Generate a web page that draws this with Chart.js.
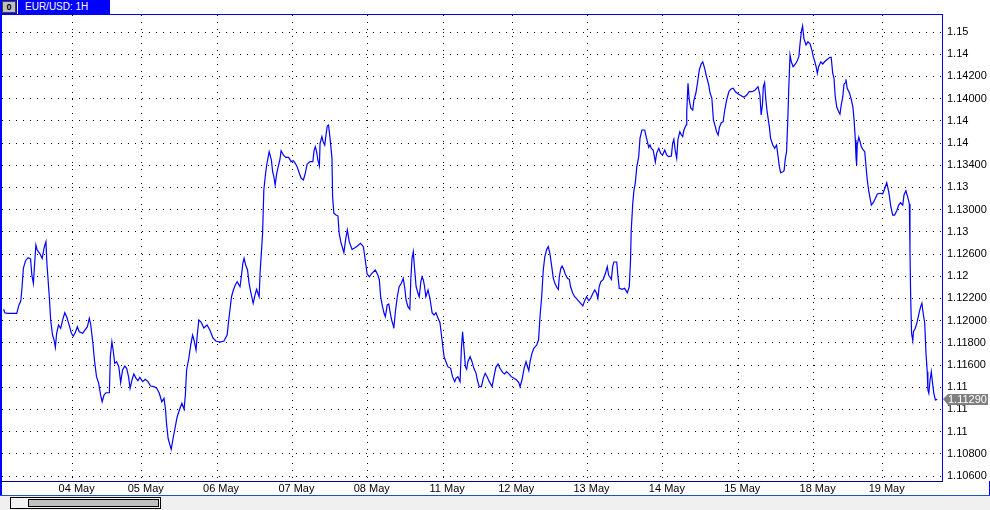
<!DOCTYPE html>
<html>
<head>
<meta charset="utf-8">
<title>EUR/USD: 1H</title>
<script src="https://cdn.jsdelivr.net/npm/chart.js@4/dist/chart.umd.min.js"></script>
<style>
body { margin: 0; background: #fff; }
#wrap { position: relative; width: 990px; height: 510px; overflow: hidden; font-family: "Liberation Sans", Arial, sans-serif; }
#chart { position: absolute; left: 0; top: 0; }
#tab { position: absolute; left: 0; top: 0; width: 110px; height: 14px; background: #0000ff; color: #fff; font-size: 10px; line-height: 14px; }
#tab .ico { position: absolute; left: 2px; top: 1px; width: 12px; height: 10px; background: #c0c0c0; border: 1px solid #404040; color: #000; font-size: 9px; font-weight: bold; line-height: 10px; text-align: center; }
#tab .sep { position: absolute; left: 17px; top: 0; width: 1px; height: 14px; background: #fff; }
#tab .txt { position: absolute; left: 25px; top: 0; }
#bottom { position: absolute; left: 0; top: 495px; width: 990px; height: 15px; background: #f0f0f0; border-top: 1px solid #2050c0; box-sizing: border-box; }
#track { position: absolute; left: 10px; top: 1px; width: 149px; height: 10px; border: 1px solid #000; background: #f4f4f4; }
#thumb { position: absolute; left: 17px; top: 1px; width: 129px; height: 6px; border: 1px solid #000; background: #c0c0c0; }
</style>
</head>
<body>
<div id="wrap">
  <canvas id="chart" width="990" height="510"></canvas>
  <div id="tab"><div class="ico">0</div><div class="sep"></div><div class="txt">EUR/USD: 1H</div></div>
  <div id="bottom"><div id="track"><div id="thumb"></div></div></div>
</div>
<script>
// hourly bars, position counted from the first visible bar
const bars = [0.0,0.4,1.2,4.2,4.9,5.5,5.9,6.3,7.0,7.8,8.6,9.0,9.5,9.9,10.3,10.7,11.5,12.3,13.0,13.5,13.8,14.6,15.0,15.6,16.1,16.5,16.9,17.5,18.2,18.8,19.5,20.1,20.9,21.6,22.2,22.8,23.5,24.1,25.2,25.9,26.7,27.3,27.7,28.4,29.0,29.6,30.3,30.9,31.4,32.0,32.6,33.7,34.0,34.5,34.9,35.4,36.0,36.7,37.3,37.9,38.6,39.2,39.8,40.3,40.9,41.5,42.2,42.8,43.4,44.3,45.1,46.0,46.8,47.9,48.8,49.6,50.4,51.1,51.6,51.9,52.4,53.0,53.4,54.0,54.7,55.3,56.2,56.8,57.5,57.9,58.3,59.0,59.6,60.2,60.7,61.3,61.7,62.2,62.9,63.8,64.8,65.7,66.7,67.6,68.9,70.2,71.2,71.8,72.1,72.6,73.2,73.8,74.4,75.3,75.8,76.2,76.6,77.1,77.7,78.2,78.7,79.5,80.2,80.6,81.0,81.4,81.7,82.1,82.5,82.9,83.4,83.8,84.2,84.6,85.3,85.7,86.1,86.5,87.0,87.6,88.0,88.4,89.1,89.9,90.8,91.6,92.3,92.9,93.5,94.2,94.8,95.5,96.1,96.7,97.6,98.5,98.9,99.3,99.7,100.1,100.6,100.8,101.4,101.8,102.3,102.7,103.1,103.5,104.0,104.6,104.8,105.2,105.9,106.5,106.9,107.4,107.7,108.4,109.0,109.5,110.1,111.0,111.8,112.7,113.7,114.6,115.2,115.8,116.5,117.3,118.4,119.2,119.7,120.1,120.7,121.2,121.6,122.2,122.7,123.1,123.6,124.1,124.3,124.8,125.4,126.0,126.7,127.3,127.8,128.2,128.8,129.4,129.7,130.1,130.5,130.9,131.4,132.0,132.4,132.9,133.3,133.7,134.1,134.5,135.2,135.8,136.5,137.1,137.7,138.4,139.0,139.4,139.9,140.3,140.9,141.5,142.4,143.0,143.7,144.1,144.7,145.4,145.8,146.2,146.6,147.1,147.5,147.9,148.6,149.2,149.8,150.5,150.9,151.5,152.2,152.8,153.4,154.1,154.7,155.6,156.2,156.8,157.5,158.1,159.0,159.6,160.2,161.1,161.7,162.6,163.4,164.1,164.5,165.1,165.8,166.4,166.8,167.3,167.7,168.3,168.9,169.8,170.4,170.9,171.4,171.9,172.4,173.0,173.5,174.0,174.6,175.1,175.6,176.2,176.7,177.0,177.5,177.9,178.5,178.9,179.6,180.2,180.6,181.3,181.9,182.7,183.6,184.5,185.1,185.7,186.4,187.0,187.6,188.3,188.9,189.3,189.7,190.2,191.0,191.7,192.3,192.7,193.1,193.6,194.0,194.4,195.3,195.7,196.1,197.0,197.8,198.7,199.3,199.7,199.9,200.4,200.8,201.2,201.7,202.3,202.7,203.3,204.2,204.8,205.5,205.9,206.3,206.9,207.6,208.0,208.7,209.3,209.9,210.6,211.2,211.8,212.7,213.1,213.5,213.9,214.4,214.8,215.4,215.9,216.3,216.7,217.4,217.6,218.0,218.4,218.9,219.5,219.9,220.5,221.0,221.6,222.2,222.7,223.3,223.9,224.6,225.0,225.6,226.1,226.7,227.1,227.6,228.0,228.6,229.2,229.7,230.3,231.0,231.6,232.4,233.1,234.0,235.1,235.8,236.7,237.5,238.4,239.4,240.3,240.9,241.3,241.7,242.0,242.4,242.8,243.2,243.9,244.3,245.0,245.6,246.2,246.7,247.1,247.5,248.2,248.6,249.0,249.4,249.8,250.1,250.5,250.9,251.5,252.2,252.8,253.3,253.7,254.1,254.5,254.9,255.6,256.2,256.9,257.5,257.9,258.4,258.8,259.2,259.6,260.3,260.9,261.5,262.4,263.2,263.6,264.1,264.5,264.9,265.4,266.0,266.4,266.8,267.3,267.7,268.1,268.3,268.7,269.4,270.0,270.5,270.9,271.3,271.5,271.7,271.9,272.4,272.8,273.2,273.8,274.3,274.7,275.1,275.6,276.0,276.4,277.0,277.7,278.3,279.2,280.0,280.7,281.3,281.7,282.1,282.6,283.2,283.8,284.5,285.1,285.7,286.4,286.8,287.4,288.1,288.5,288.7,288.9,289.2,289.6,289.8,290.4,291.0,291.7,292.1,292.5,292.9,293.4,293.8,294.2,294.4,294.7,295.1,295.5,295.9,296.3,296.8,297.4];

const closes = [1.12102,1.12071,1.12066,1.12066,1.12141,1.12179,1.12305,1.12471,1.12540,1.12567,1.12555,1.12411,1.12336,1.12516,1.12681,1.12636,1.12606,1.12561,1.12666,1.12711,1.12516,1.12201,1.12005,1.11870,1.11825,1.11759,1.11886,1.11960,1.11931,1.12005,1.12071,1.12035,1.11960,1.11886,1.11861,1.11891,1.11945,1.11900,1.11886,1.11915,1.11945,1.12021,1.11976,1.11810,1.11630,1.11495,1.11435,1.11330,1.11269,1.11330,1.11350,1.11350,1.11675,1.11810,1.11735,1.11615,1.11630,1.11585,1.11441,1.11555,1.11591,1.11570,1.11495,1.11390,1.11465,1.11519,1.11480,1.11459,1.11489,1.11450,1.11471,1.11450,1.11411,1.11405,1.11390,1.11345,1.11269,1.11300,1.11195,1.11075,1.10940,1.10879,1.10841,1.10940,1.11044,1.11134,1.11210,1.11255,1.11201,1.11330,1.11555,1.11660,1.11780,1.11870,1.11819,1.11735,1.11870,1.12005,1.11987,1.11933,1.11960,1.11915,1.11843,1.11816,1.11807,1.11816,1.11870,1.12023,1.12096,1.12215,1.12276,1.12321,1.12350,1.12305,1.12411,1.12516,1.12561,1.12501,1.12456,1.12336,1.12260,1.12156,1.12246,1.12282,1.12246,1.12215,1.12426,1.12606,1.12786,1.13177,1.13312,1.13402,1.13462,1.13522,1.13447,1.13341,1.13296,1.13222,1.13327,1.13402,1.13447,1.13531,1.13492,1.13471,1.13471,1.13432,1.13441,1.13417,1.13387,1.13327,1.13282,1.13267,1.13327,1.13411,1.13432,1.13432,1.13531,1.13567,1.13522,1.13447,1.13393,1.13597,1.13657,1.13612,1.13582,1.13672,1.13753,1.13762,1.13642,1.13462,1.13116,1.12967,1.12951,1.12942,1.12786,1.12711,1.12681,1.12612,1.12741,1.12816,1.12711,1.12642,1.12654,1.12672,1.12696,1.12666,1.12546,1.12420,1.12395,1.12426,1.12456,1.12411,1.12366,1.12215,1.12125,1.12066,1.12035,1.12141,1.12150,1.12080,1.12005,1.11960,1.11931,1.12080,1.12215,1.12305,1.12336,1.12381,1.12291,1.12186,1.12125,1.12102,1.12366,1.12561,1.12621,1.12471,1.12305,1.12246,1.12215,1.12350,1.12395,1.12366,1.12305,1.12215,1.12276,1.12201,1.12071,1.12050,1.12071,1.12021,1.11981,1.11886,1.11765,1.11675,1.11630,1.11585,1.11570,1.11495,1.11450,1.11480,1.11495,1.11450,1.11735,1.11900,1.11765,1.11585,1.11561,1.11630,1.11675,1.11630,1.11570,1.11525,1.11465,1.11405,1.11405,1.11480,1.11525,1.11489,1.11450,1.11405,1.11495,1.11579,1.11609,1.11570,1.11531,1.11519,1.11540,1.11516,1.11495,1.11480,1.11465,1.11441,1.11405,1.11465,1.11570,1.11630,1.11591,1.11549,1.11630,1.11705,1.11750,1.11780,1.11825,1.12050,1.12215,1.12456,1.12576,1.12642,1.12666,1.12606,1.12486,1.12381,1.12336,1.12300,1.12282,1.12395,1.12471,1.12492,1.12456,1.12420,1.12381,1.12372,1.12305,1.12246,1.12215,1.12192,1.12161,1.12132,1.12179,1.12215,1.12179,1.12201,1.12240,1.12276,1.12246,1.12201,1.12305,1.12350,1.12372,1.12426,1.12486,1.12411,1.12395,1.12372,1.12486,1.12528,1.12528,1.12395,1.12291,1.12282,1.12291,1.12251,1.12305,1.12546,1.12801,1.13057,1.13177,1.13237,1.13387,1.13477,1.13642,1.13717,1.13717,1.13642,1.13561,1.13582,1.13552,1.13537,1.13429,1.13507,1.13552,1.13507,1.13492,1.13537,1.13492,1.13477,1.13483,1.13597,1.13633,1.13537,1.13462,1.13633,1.13702,1.13672,1.13657,1.13717,1.13762,1.13882,1.14138,1.13987,1.13913,1.13897,1.13987,1.14048,1.14138,1.14258,1.14312,1.14332,1.14273,1.14197,1.14123,1.14053,1.14003,1.13807,1.13747,1.13702,1.13672,1.13741,1.13783,1.13792,1.13897,1.13987,1.14062,1.14084,1.14093,1.14062,1.14041,1.14023,1.14012,1.14032,1.14062,1.14062,1.14078,1.14107,1.14032,1.13852,1.13942,1.14107,1.14143,1.13987,1.13882,1.13747,1.13642,1.13582,1.13552,1.13582,1.13477,1.13387,1.13332,1.13341,1.13350,1.13462,1.13522,1.13822,1.14093,1.14393,1.14332,1.14287,1.14312,1.14341,1.14378,1.14498,1.14603,1.14654,1.14543,1.14483,1.14513,1.14492,1.14432,1.14378,1.14332,1.14287,1.14228,1.14287,1.14332,1.14312,1.14332,1.14354,1.14372,1.14372,1.14228,1.14183,1.14017,1.13922,1.13882,1.13861,1.13942,1.14017,1.14132,1.14143,1.14174,1.14093,1.14053,1.13994,1.13927,1.13807,1.13627,1.13477,1.13402,1.13582,1.13651,1.13612,1.13567,1.13537,1.13522,1.13387,1.13267,1.13161,1.13102,1.13041,1.13062,1.13102,1.13141,1.13147,1.13141,1.13192,1.13242,1.13192,1.13132,1.13026,1.12951,1.12951,1.12990,1.13041,1.13062,1.13041,1.13132,1.13170,1.13102,1.13050,1.12636,1.12246,1.11886,1.11819,1.11900,1.11931,1.11990,1.12080,1.12125,1.12156,1.12066,1.11976,1.11705,1.11540,1.11375,1.11345,1.11465,1.11540,1.11435,1.11345,1.11285,1.11290];

// day separators on the time axis
const dayStarts = [22, 44, 68, 92, 116, 140, 162, 186, 210, 234, 258, 280];
const dayLabels = ['04 May', '05 May', '06 May', '07 May', '08 May', '11 May', '12 May', '13 May', '14 May', '15 May', '18 May', '19 May'];

// price axis, labels as the terminal prints them
const priceTicks = [1.106, 1.108, 1.110, 1.112, 1.114, 1.116, 1.118, 1.120, 1.122, 1.124, 1.126, 1.128, 1.130, 1.132, 1.134, 1.136, 1.138, 1.140, 1.142, 1.144, 1.146];
const priceLabels = ['1.10600', '1.10800', '1.11', '1.11', '1.11', '1.11600', '1.11800', '1.12000', '1.12200', '1.12', '1.12600', '1.13', '1.13000', '1.13', '1.13400', '1.14', '1.14', '1.14000', '1.14200', '1.14', '1.15'];

const lastPrice = '1.11290';

const font = {family: 'Liberation Sans, Arial, sans-serif', size: 11};

const framePlugin = {
    id: 'frame',
    afterDraw: function(chart){
        const ctx = chart.ctx;
        const a = chart.chartArea;
        ctx.save();
        ctx.fillStyle = '#0000ff';
        ctx.fillRect(0, a.top - 1, a.right + 1, 1);
        ctx.fillRect(0, a.top - 1, 2, a.bottom - a.top + 16);
        ctx.fillRect(a.right, a.top - 1, 1, a.bottom - a.top + 1);
        ctx.fillRect(989, a.bottom, 1, 30);
        ctx.fillStyle = '#000080';
        ctx.fillRect(0, a.bottom, a.right + 1, 1);

        // current price marker
        const y = Math.round(chart.scales.y.getPixelForValue(closes[closes.length - 1]));
        ctx.fillStyle = '#808080';
        ctx.beginPath();
        ctx.moveTo(a.right + 1, y);
        ctx.lineTo(a.right + 6, y - 5);
        ctx.lineTo(988, y - 5);
        ctx.lineTo(988, y + 6);
        ctx.lineTo(a.right + 6, y + 6);
        ctx.closePath();
        ctx.fill();
        ctx.fillStyle = '#ffffff';
        ctx.font = '11px ' + font.family;
        ctx.textBaseline = 'middle';
        ctx.fillText(lastPrice, a.right + 6, y + 1);
        ctx.restore();
    }
};

const ctx = document.getElementById('chart');

new Chart(ctx, {
    type: 'line',
    data: {
        datasets: [{
            data: bars.map((b, i) => ({x: b, y: closes[i]})),
            borderColor: '#0000ff',
            borderWidth: 1.2,
            pointRadius: 0,
            tension: 0,
            fill: false
        }]
    },
    options: {
        responsive: false,
        animation: false,
        layout: {padding: {left: 2, top: 15, right: 0, bottom: 15}},
        plugins: {
            legend: {display: false},
            tooltip: {enabled: false}
        },
        scales: {
            x: {
                type: 'linear',
                min: -0.5,
                max: 298.9,
                afterFit: function(scale){ scale.height = 14; },
                afterBuildTicks: function(scale){ scale.ticks = dayStarts.map(v => ({value: v})); },
                ticks: {
                    callback: (v, i) => dayLabels[i],
                    color: '#000',
                    font: font,
                    padding: 1,
                    labelOffset: 4,
                    maxRotation: 0,
                    autoSkip: false
                },
                grid: {color: '#000', lineWidth: 1, drawTicks: false},
                border: {display: false, dash: [1, 6]}
            },
            y: {
                position: 'right',
                min: 1.105550,
                max: 1.147532,
                afterFit: function(scale){ scale.width = 48; },
                afterBuildTicks: function(scale){ scale.ticks = priceTicks.map(v => ({value: v})); },
                ticks: {
                    callback: (v, i) => priceLabels[i],
                    color: '#000',
                    font: font,
                    padding: 5,
                    autoSkip: false
                },
                grid: {color: '#000', lineWidth: 1, drawTicks: false},
                border: {display: false, dash: [1, 6]}
            }
        }
    },
    plugins: [framePlugin]
});
</script>
</body>
</html>
